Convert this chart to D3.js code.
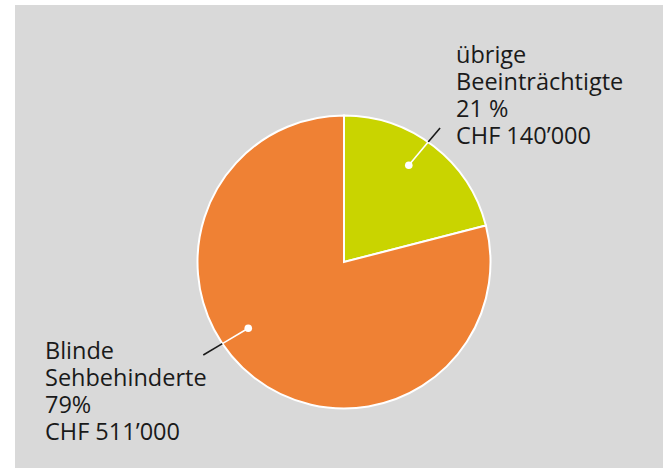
<!DOCTYPE html>
<html>
<head>
<meta charset="utf-8">
<script src="https://cdn.jsdelivr.net/npm/d3@7"></script>
<style>
  html, body { margin: 0; padding: 0; background: #fff; }
  svg { display: block; }
  .label { font-family: "Open Sans", sans-serif; font-size: 23.5px; fill: #1a1a1a; }
</style>
</head>
<body>
<div id="chart"></div>
<script>
// Pie chart: CHF split between groups
const categories = ["übrige Beeinträchtigte", "Blinde Sehbehinderte"];
const shares = [21, 79];
const amounts = ["140’000", "511’000"];
const labelLines = [
  ["übrige", "Beeinträchtigte", "21 %", "CHF 140’000"],
  ["Blinde", "Sehbehinderte", "79%", "CHF 511’000"]
];
const colors = ["#c9d400", "#ef8134"];
// where each leader dot sits (degrees clockwise from top) and which way the leader runs
const dotAngles = [33.8, 235.3];
const leaderAngles = [40, 239.3];

const W = 663, H = 468;
const cx = 344, cy = 262, radius = 146.5;

const svg = d3.select("#chart")
  .append("svg")
  .attr("width", W)
  .attr("height", H);

svg.append("rect")
  .attr("x", 15).attr("y", 5)
  .attr("width", W - 15).attr("height", H - 5)
  .attr("fill", "#d9d9d9");

const g = svg.append("g").attr("transform", `translate(${cx},${cy})`);

const pie = d3.pie().sort(null).value(d => d);
const arcs = pie(shares);
const arc = d3.arc().innerRadius(0).outerRadius(radius);

g.selectAll(".slice")
  .data(arcs)
  .enter()
  .append("path")
  .attr("class", "slice")
  .attr("d", arc)
  .attr("fill", (d, i) => colors[i])
  .attr("stroke", "#fff")
  .attr("stroke-width", 2)
  .attr("stroke-linejoin", "miter");

// Leaders: dot inside slice, white inside the pie, black outside
const rad = a => a * Math.PI / 180;
const dotR = d3.scaleLinear().domain([0, 1]).range([0, radius])(0.795);
const leaderLen = [48.7, 52.3];

dotAngles.forEach((a, i) => {
  const [px, py] = d3.pointRadial(rad(a), dotR);
  const dx = Math.sin(rad(leaderAngles[i])), dy = -Math.cos(rad(leaderAngles[i]));
  // distance along the leader to the pie edge
  const b = px * dx + py * dy;
  const c = px * px + py * py - radius * radius;
  const t = -b + Math.sqrt(b * b - c);
  const L = leaderLen[i];
  g.append("line")
    .attr("x1", px + dx * t).attr("y1", py + dy * t)
    .attr("x2", px + dx * L).attr("y2", py + dy * L)
    .attr("stroke", "#1a1a1a").attr("stroke-width", 1.6);
  g.append("line")
    .attr("x1", px).attr("y1", py)
    .attr("x2", px + dx * t).attr("y2", py + dy * t)
    .attr("stroke", "#fff").attr("stroke-width", 1.6);
  g.append("circle")
    .attr("cx", px).attr("cy", py).attr("r", 3.8)
    .attr("fill", "#fff");
});

// Labels
const labelPos = [{ x: 456, y: 63 }, { x: 45, y: 359 }];
const lineH = 27;
labelLines.forEach((lines, i) => {
  const t = svg.append("text")
    .attr("class", "label")
    .attr("x", labelPos[i].x)
    .attr("y", labelPos[i].y);
  lines.forEach((s, j) => {
    t.append("tspan")
      .attr("x", labelPos[i].x)
      .attr("y", labelPos[i].y + j * lineH)
      .text(s);
  });
});
</script>
</body>
</html>
